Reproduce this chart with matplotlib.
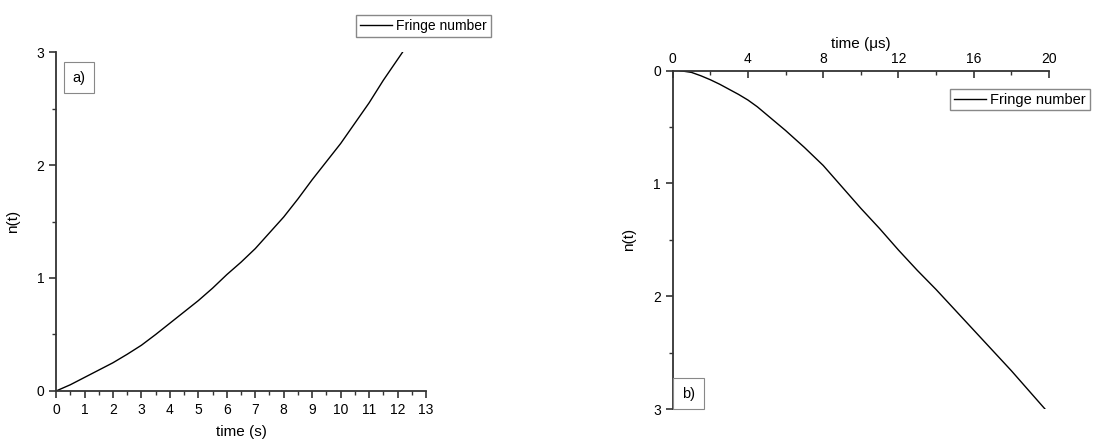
import matplotlib.pyplot as plt
from matplotlib.ticker import MultipleLocator

plt.rcParams['font.family'] = ['Liberation Sans', 'DejaVu Sans']

# panel a: fringe number vs time (s)
t_a = [0, 0.5, 1, 1.5, 2, 2.5, 3, 3.5, 4, 4.5, 5, 5.5, 6, 6.5, 7, 7.5, 8, 8.5,
       9, 9.5, 10, 10.5, 11, 11.5, 12.18]
n_a = [0, 0.055, 0.12, 0.185, 0.25, 0.325, 0.405, 0.50, 0.60, 0.70, 0.80, 0.91,
       1.03, 1.14, 1.26, 1.40, 1.54, 1.70, 1.87, 2.03, 2.19, 2.37, 2.55, 2.75, 3.0]

# panel b: fringe number vs time (us)
t_b = [0.4, 1, 1.5, 2, 2.5, 3, 3.5, 4, 4.5, 5, 5.5, 6, 7, 8, 9, 10, 11, 12,
       13, 14, 15, 16, 17, 18, 19, 19.79]
n_b = [0, 0.015, 0.045, 0.08, 0.12, 0.165, 0.21, 0.26, 0.32, 0.39, 0.46, 0.53,
       0.68, 0.84, 1.03, 1.22, 1.40, 1.59, 1.77, 1.94, 2.12, 2.30, 2.48, 2.66,
       2.85, 3.0]

axis_col = '#333333'
fig = plt.figure(figsize=(11.1, 4.43), dpi=100)

# ---- a)
ax1 = fig.add_axes([0.0505, 0.1174, 0.3333, 0.7652])
ax1.plot(t_a, n_a, color='black', lw=1.0, label='Fringe number')
ax1.set_xlim(0, 13)
ax1.set_ylim(0, 3)
ax1.xaxis.set_major_locator(MultipleLocator(1))
ax1.xaxis.set_minor_locator(MultipleLocator(0.5))
ax1.yaxis.set_major_locator(MultipleLocator(1))
ax1.yaxis.set_minor_locator(MultipleLocator(0.5))
for s in ['top', 'right']:
    ax1.spines[s].set_visible(False)
for s in ['left', 'bottom']:
    ax1.spines[s].set_color(axis_col)
    ax1.spines[s].set_linewidth(1.3)
ax1.tick_params(which='major', direction='out', length=5, width=1.2, color=axis_col, labelsize=10)
ax1.tick_params(which='minor', direction='out', length=3, width=1.0, color=axis_col)
ax1.set_xlabel('time (s)', fontsize=11, labelpad=6)
ax1.set_ylabel('n(t)', fontsize=11, labelpad=12)
ax1.text(0.045, 0.945, 'a)', transform=ax1.transAxes, fontsize=10.5, va='top', ha='left',
         bbox=dict(boxstyle='square,pad=0.6', fc='white', ec='#888888', lw=0.8))
ax1.legend(loc='center', bbox_to_anchor=(0.3812, 0.941), bbox_transform=fig.transFigure,
           fancybox=False, edgecolor='#888888', framealpha=1, fontsize=10,
           handlelength=2.3, handletextpad=0.3, borderpad=0.3, borderaxespad=0)

# ---- b)
ax2 = fig.add_axes([0.606, 0.0767, 0.339, 0.7637])
ax2.plot(t_b, n_b, color='black', lw=1.0, label='Fringe number')
ax2.set_xlim(0, 20)
ax2.set_ylim(3, 0)
ax2.xaxis.tick_top()
ax2.xaxis.set_label_position('top')
ax2.xaxis.set_major_locator(MultipleLocator(4))
ax2.xaxis.set_minor_locator(MultipleLocator(2))
ax2.yaxis.set_major_locator(MultipleLocator(1))
ax2.yaxis.set_minor_locator(MultipleLocator(0.5))
for s in ['bottom', 'right']:
    ax2.spines[s].set_visible(False)
for s in ['left', 'top']:
    ax2.spines[s].set_color(axis_col)
    ax2.spines[s].set_linewidth(1.3)
ax2.tick_params(axis='x', which='major', direction='in', length=5, width=1.2, color=axis_col, labelsize=10)
ax2.tick_params(axis='x', which='minor', direction='in', length=3, width=1.0, color=axis_col)
ax2.tick_params(axis='y', which='major', direction='out', length=5, width=1.2, color=axis_col, labelsize=10)
ax2.tick_params(axis='y', which='minor', direction='out', length=3, width=1.0, color=axis_col)
ax2.set_xlabel('time (\u03bcs)', fontsize=11, labelpad=3)
ax2.set_ylabel('n(t)', fontsize=11, labelpad=12)
ax2.text(0.025, 0.025, 'b)', transform=ax2.transAxes, fontsize=10.5, va='bottom', ha='left',
         bbox=dict(boxstyle='square,pad=0.6', fc='white', ec='#888888', lw=0.8))
ax2.legend(loc='center left', bbox_to_anchor=(0.856, 0.775), bbox_transform=fig.transFigure,
           fancybox=False, edgecolor='#888888', framealpha=1, fontsize=10.5,
           handlelength=2.2, handletextpad=0.3, borderpad=0.25, borderaxespad=0)

fig.savefig('out.png', dpi=100)
